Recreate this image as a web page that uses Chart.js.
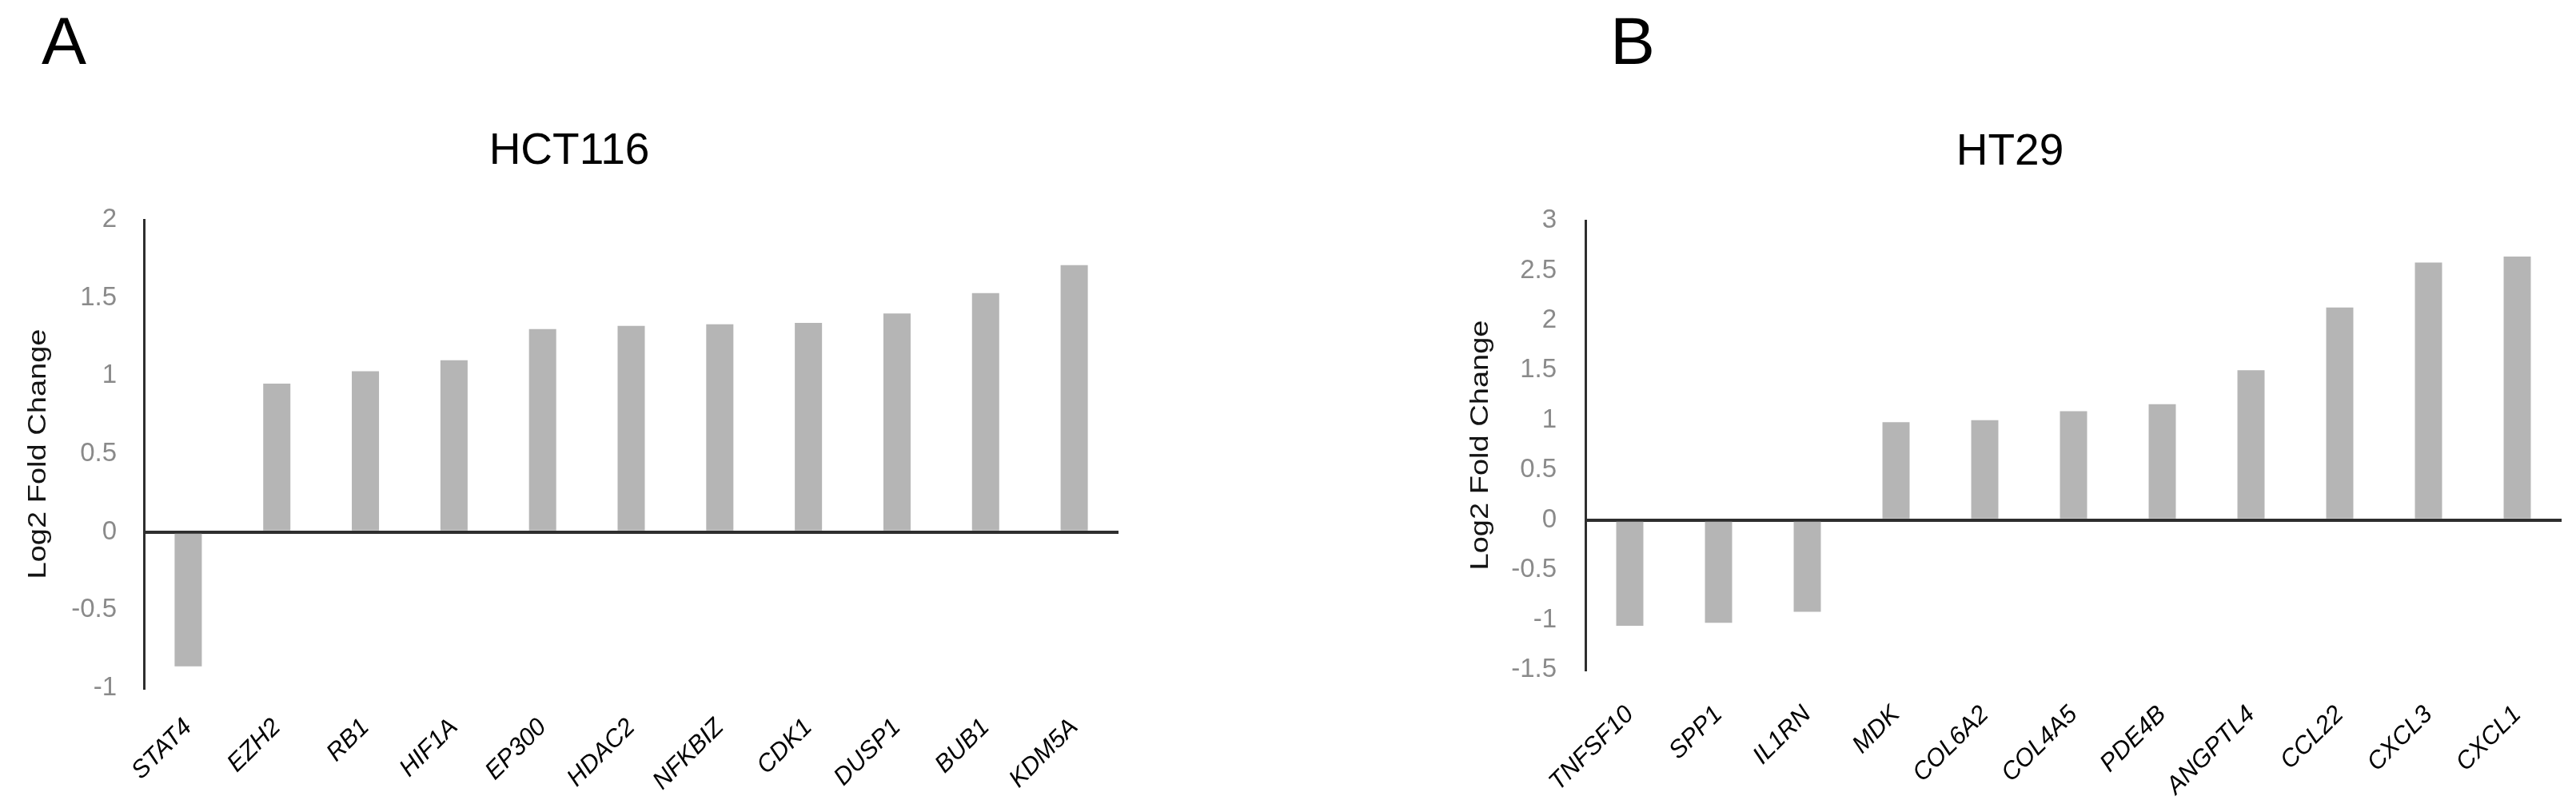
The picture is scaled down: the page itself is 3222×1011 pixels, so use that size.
<!DOCTYPE html>
<html><head><meta charset="utf-8">
<script src="https://cdn.jsdelivr.net/npm/chart.js@4.4.1/dist/chart.umd.min.js"></script>
<style>
html,body{margin:0;padding:0;background:#fff;width:3222px;height:1011px;overflow:hidden;position:relative;}
canvas{position:absolute;top:0;}
#cA{left:0}
#cB{left:1611px}
.pl{position:absolute;font-family:"Liberation Sans",Arial,sans-serif;font-size:84px;line-height:84px;color:#000;}
</style></head><body>
<div class="pl" style="left:52px;top:9px">A</div>
<div class="pl" style="left:2014px;top:9px">B</div>
<canvas id="cA" width="1611" height="1011"></canvas>
<canvas id="cB" width="1611" height="1011"></canvas>
<script>
// ---- data ----
const hct116Title = "HCT116";
const hct116Genes = ["STAT4","EZH2","RB1","HIF1A","EP300","HDAC2","NFKBIZ","CDK1","DUSP1","BUB1","KDM5A"];
const hct116Values = [-0.86, 0.95, 1.03, 1.10, 1.30, 1.32, 1.33, 1.34, 1.40, 1.53, 1.71];
const hct116YRange = [-1, 2];

const ht29Title = "HT29";
const ht29Genes = ["TNFSF10","SPP1","IL1RN","MDK","COL6A2","COL4A5","PDE4B","ANGPTL4","CCL22","CXCL3","CXCL1"];
const ht29Values = [-1.06, -1.03, -0.92, 0.98, 1.00, 1.09, 1.16, 1.50, 2.13, 2.58, 2.64];
const ht29YRange = [-1.5, 3];

const yStep = 0.5;
const yTitle = "Log2 Fold Change";

const FONT = '"Liberation Sans", Arial, sans-serif';

// draws the rotated y-axis title (wide lettering as in the figure)
const yTitlePlugin = {
  id: 'yTitleWide',
  afterDraw(chart, args, opts) {
    const ctx = chart.ctx, a = chart.chartArea;
    ctx.save();
    ctx.translate(opts.x, (a.top + a.bottom) / 2);
    ctx.rotate(-Math.PI / 2);
    ctx.font = opts.size + 'px ' + FONT;
    const w = ctx.measureText(opts.text).width;
    ctx.scale(opts.length / w, 1);
    ctx.fillStyle = opts.color;
    ctx.textAlign = 'center';
    ctx.textBaseline = 'middle';
    ctx.fillText(opts.text, 0, 0);
    ctx.restore();
  }
};

function makeChart(id, title, labels, values, range, L) {
  const lh = 55 * 1.2;
  const titleTop = L.titleCenter - lh / 2;
  const titleBottom = L.plotTop - titleTop - lh;
  return new Chart(document.getElementById(id), {
    type: 'bar',
    plugins: [yTitlePlugin],
    data: {
      labels: labels,
      datasets: [{
        data: values,
        backgroundColor: '#b5b5b5',
        borderWidth: 0,
        categoryPercentage: 1,
        barPercentage: L.barPct
      }]
    },
    options: {
      responsive: false,
      devicePixelRatio: 1,
      animation: false,
      layout: { padding: { left: L.padLeft, right: L.padRight, top: 0, bottom: 0 } },
      plugins: {
        legend: { display: false },
        tooltip: { enabled: false },
        title: {
          display: true,
          text: title,
          color: '#000',
          font: { family: FONT, size: 55, weight: 'normal', lineHeight: 1.2 },
          padding: { top: titleTop, bottom: titleBottom }
        },
        yTitleWide: { text: yTitle, x: L.yTitleX, size: 32, length: 313, color: '#141414' }
      },
      scales: {
        x: {
          grid: { display: false, drawTicks: false },
          border: { display: false },
          ticks: {
            autoSkip: false,
            maxRotation: 45,
            minRotation: 45,
            padding: L.xTickPad,
            color: '#000',
            font: { family: FONT, size: 31, style: 'italic' }
          },
          afterFit: s => { s.height = 1011 - L.plotBottom; }
        },
        y: {
          min: range[0],
          max: range[1],
          ticks: {
            stepSize: yStep,
            padding: L.yTickPad,
            color: '#8a8a8a',
            font: { family: FONT, size: 33 },
            callback: v => String(Number(Number(v).toFixed(2)))
          },
          grid: {
            drawTicks: false,
            color: c => (c.tick && Math.abs(c.tick.value) < 1e-9) ? '#2e2e2e' : 'rgba(0,0,0,0)',
            lineWidth: 4
          },
          border: { display: true, color: '#2e2e2e', width: 3 },
          title: { display: false },
          afterFit: s => { s.width = L.yAxisWidth; }
        }
      }
    }
  });
}

makeChart('cA', hct116Title, hct116Genes, hct116Values, hct116YRange, {
  padLeft: 25, padRight: 212, yAxisWidth: 155, yTickPad: 34, yTitleX: 48,
  plotTop: 275, plotBottom: 861, titleCenter: 190, xTickPad: 31, barPct: 0.307
});
makeChart('cB', ht29Title, ht29Genes, ht29Values, ht29YRange, {
  padLeft: 213, padRight: 18, yAxisWidth: 159, yTickPad: 36, yTitleX: 241,
  plotTop: 276, plotBottom: 838, titleCenter: 191, xTickPad: 38, barPct: 0.306
});
</script>
</body></html>
